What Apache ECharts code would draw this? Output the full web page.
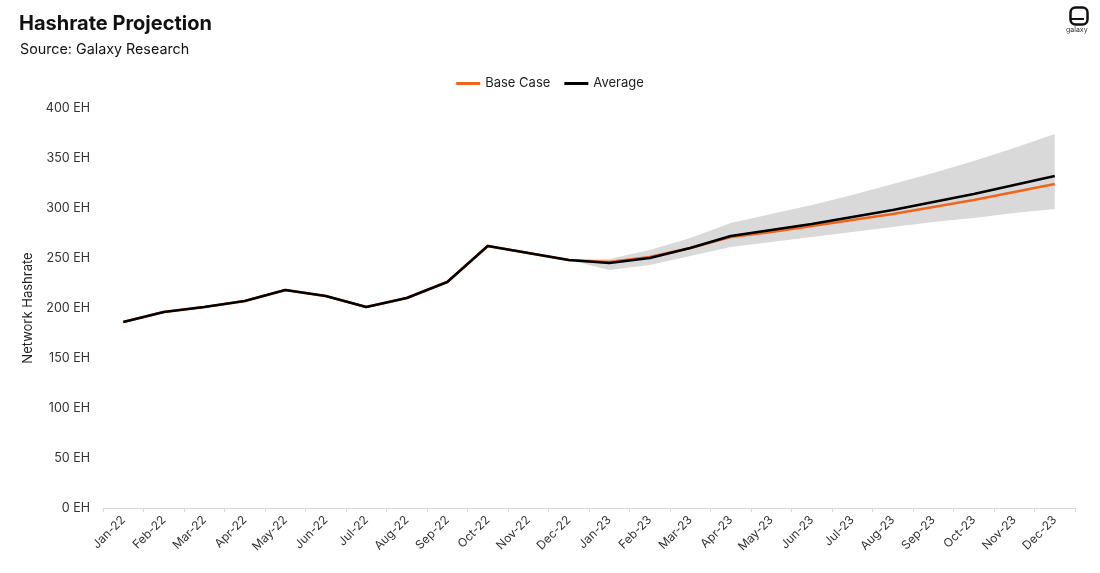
<!DOCTYPE html>
<html>
<head>
<meta charset="utf-8">
<script src="https://cdn.jsdelivr.net/npm/echarts@6/dist/echarts.min.js"></script>
<style>
html,body{margin:0;padding:0;background:#fff;}
#chart{width:1100px;height:573px;}
</style>
</head>
<body>
<div id="chart"></div>
<script>
const categories = ['Jan-22','Feb-22','Mar-22','Apr-22','May-22','Jun-22','Jul-22','Aug-22','Sep-22','Oct-22','Nov-22','Dec-22',
  'Jan-23','Feb-23','Mar-23','Apr-23','May-23','Jun-23','Jul-23','Aug-23','Sep-23','Oct-23','Nov-23','Dec-23'];
const averageValues = [186,196,201,207,218,212,201,210,226,262,255,248,
  245,250,260,272,278,284,291,298,306,314,323,332];
const baseCaseValues = [186,196,201,207,218,212,201,210,226,262,255,248,
  246,251,260,271,276,282,288,294,301,308,316,324];
const bandLower = [null,null,null,null,null,null,null,null,null,null,null,248,
  238,243,252,261,266,271,276,281,286,290,295,299];
const bandUpper = [null,null,null,null,null,null,null,null,null,null,null,248,
  249,258,270,285,294,303,313,324,335,347,360,374];
const yTicks = [0,50,100,150,200,250,300,350,400];

const bandDiff = bandUpper.map((u,i)=> (u==null||bandLower[i]==null) ? null : u - bandLower[i]);
const FONT = 'Inter, "Noto Sans", sans-serif';

const chart = echarts.init(document.getElementById('chart'), null, {renderer:'canvas'});
chart.setOption({
  backgroundColor:'#ffffff',
  animation:false,
  title:[
    {text:'Hashrate Projection', left:14, top:9, textStyle:{fontFamily:FONT, fontSize:20, fontWeight:'bold', color:'#111'}},
    {text:'Source: Galaxy Research', left:15, top:38, textStyle:{fontFamily:FONT, fontSize:14.3, fontWeight:'normal', color:'#111'}}
  ],
  legend:{
    top:72, left:'center',
    itemWidth:24, itemHeight:3, itemGap:14,
    icon:'rect',
    textStyle:{fontFamily:FONT, fontSize:13, color:'#222'},
    data:['Base Case','Average']
  },
  grid:{left:103, right:25, top:108, bottom:65, containLabel:false},
  xAxis:{
    type:'category',
    data:categories,
    boundaryGap:true,
    axisLine:{lineStyle:{color:'#d9d9d9', width:1}},
    axisTick:{show:true, alignWithLabel:false, length:4, lineStyle:{color:'#d9d9d9'}},
    axisLabel:{interval:0, rotate:45, fontFamily:FONT, fontSize:12, color:'#333', margin:10}
  },
  yAxis:{
    type:'value', min:yTicks[0], max:yTicks[yTicks.length-1], interval:50,
    name:'Network Hashrate', nameLocation:'middle', nameGap:60, nameRotate:90,
    nameTextStyle:{fontFamily:FONT, fontSize:13, color:'#222'},
    axisLine:{show:false}, axisTick:{show:false},
    splitLine:{show:false},
    axisLabel:{formatter:'{value} EH', fontFamily:FONT, fontSize:12.5, color:'#333', margin:13}
  },
  series:[
    {name:'bandLow', type:'line', data:bandLower, stack:'band', symbol:'none', lineStyle:{opacity:0}, silent:true, z:1},
    {name:'bandRange', type:'line', data:bandDiff, stack:'band', symbol:'none', lineStyle:{opacity:0},
      areaStyle:{color:'#d9d9d9', opacity:1}, silent:true, z:1},
    {name:'Base Case', type:'line', data:baseCaseValues, symbol:'none', itemStyle:{color:'#f26419'},
      lineStyle:{color:'#f26419', width:2.5}, z:3},
    {name:'Average', type:'line', data:averageValues, symbol:'none', itemStyle:{color:'#000000'},
      lineStyle:{color:'#000000', width:2.5}, z:4}
  ],
  graphic:[
    {type:'rect', left:1068, top:5, shape:{width:17, height:17, r:5}, style:{fill:'none', stroke:'#111', lineWidth:2.5}},
    {type:'rect', left:1070, top:18, shape:{width:14, height:2}, style:{fill:'#111'}},
    {type:'text', left:1066, top:26, style:{text:'galaxy', font:'7px '+FONT, fill:'#333'}}
  ]
});
</script>
</body>
</html>
